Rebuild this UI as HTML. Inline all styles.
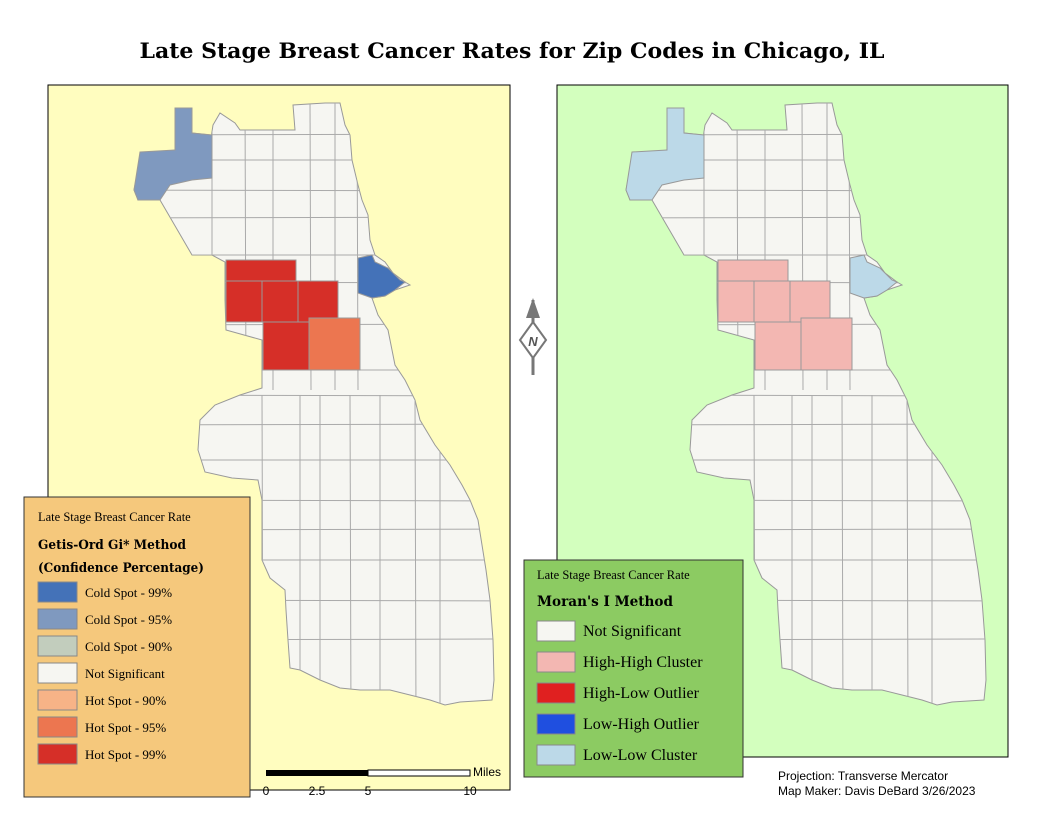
<!DOCTYPE html>
<html><head><meta charset="utf-8"><style>
body{margin:0;background:#fff;}
.serif{font-family:"Liberation Serif",serif;}
.sans{font-family:"Liberation Sans",sans-serif;}
</style></head><body>
<svg width="1056" height="816" viewBox="0 0 1056 816" xmlns="http://www.w3.org/2000/svg">
<defs>
<clipPath id="cityclip"><path id="cityPath" d="M175,108 L192,108 L192,133 L210,135 L210,145 L213,125 L220,113 L235,123 L240,130 L295,130 L293,105 L325,103 L340,103 L345,125 L350,135 L352,160 L358,185 L362,200 L368,215 L370,240 L375,255 L385,262 L393,273 L405,282 L410,285 L395,290 L385,296 L372,298 L378,315 L388,330 L392,350 L395,365 L405,380 L415,400 L420,420 L435,445 L450,465 L462,485 L470,500 L478,520 L482,545 L486,570 L490,600 L493,640 L494,680 L492,700 L460,702 L445,705 L430,700 L410,695 L390,690 L360,690 L340,688 L320,680 L300,670 L290,668 L288,640 L286,610 L285,590 L270,578 L262,560 L262,520 L262,500 L258,480 L232,478 L205,472 L198,450 L200,420 L215,405 L240,395 L262,388 L262,370 L262,340 L226,330 L225,300 L225,262 L212,255 L192,255 L160,200 L155,200 L145,196 L138,200 L134,190 L140,160 L155,154 L175,150 Z"/></clipPath>
</defs>

<text x="512" y="58" text-anchor="middle" font-size="21" font-weight="bold" style="font-family:'DejaVu Serif',serif" textLength="745" lengthAdjust="spacingAndGlyphs">Late Stage Breast Cancer Rates for Zip Codes in Chicago, IL</text>

<rect x="48" y="85" width="462" height="705" fill="#fffdbf" stroke="#000" stroke-width="1"/>
<rect x="557" y="85" width="451" height="672" fill="#d3ffbe" stroke="#000" stroke-width="1"/>

<g id="leftMap"></g>
<g id="rightMap"></g>

<g>
<line x1="533" y1="300" x2="533" y2="375" stroke="#777" stroke-width="3"/>
<polygon points="533,298 526,318 540,318" fill="#777"/>
<polygon points="533,322 520,340 533,358 546,340" fill="#fff" stroke="#777" stroke-width="2"/>
<text x="533" y="346" text-anchor="middle" font-size="13" font-weight="bold" font-style="italic" fill="#555" class="sans">N</text>
</g>

<g class="serif">
<rect x="24" y="497" width="226" height="300" fill="#f5c87c" stroke="#333"/>
<text x="38" y="521" font-size="12.5">Late Stage Breast Cancer Rate</text>
<text x="38" y="549" font-size="13" font-weight="bold" style="font-family:'DejaVu Serif',serif" textLength="148" lengthAdjust="spacingAndGlyphs">Getis-Ord Gi* Method</text>
<text x="38" y="572" font-size="13" font-weight="bold" style="font-family:'DejaVu Serif',serif" textLength="166" lengthAdjust="spacingAndGlyphs">(Confidence Percentage)</text>
<g id="leftLegend"></g>
</g>

<g class="serif">
<rect x="524" y="560" width="219" height="217" fill="#8ccb62" stroke="#333"/>
<text x="537" y="579" font-size="12.5">Late Stage Breast Cancer Rate</text>
<text x="537" y="606" font-size="14" font-weight="bold" style="font-family:'DejaVu Serif',serif" textLength="136" lengthAdjust="spacingAndGlyphs">Moran's I Method</text>
<g id="rightLegend"></g>
</g>

<g class="sans">
<rect x="266" y="770" width="102" height="6" fill="#000"/>
<rect x="368" y="770" width="102" height="6" fill="#fff" stroke="#000" stroke-width="1"/>
<text x="473" y="776" font-size="12">Miles</text>
<text x="266" y="795" font-size="12" text-anchor="middle">0</text>
<text x="317" y="795" font-size="12" text-anchor="middle">2.5</text>
<text x="368" y="795" font-size="12" text-anchor="middle">5</text>
<text x="470" y="795" font-size="12" text-anchor="middle">10</text>
</g>
<text x="778" y="780" font-size="12" class="sans">Projection: Transverse Mercator</text>
<text x="778" y="795" font-size="12" class="sans">Map Maker: Davis DeBard 3/26/2023</text>
</svg>
<script>
const leftCategories=["Cold Spot - 99%","Cold Spot - 95%","Cold Spot - 90%","Not Significant","Hot Spot - 90%","Hot Spot - 95%","Hot Spot - 99%"];
const leftColors=["#4472b8","#7f99bf","#c2cdbd","#f6f6f2","#f7b387","#ec7650","#d62f28"];
const rightCategories=["Not Significant","High-High Cluster","High-Low Outlier","Low-High Outlier","Low-Low Cluster"];
const rightColors=["#f6f6f2","#f3b7b2","#e02020","#1f4fe0","#bcd9e8"];
const zones=[
 ["140,152 175,150 175,108 192,108 192,133 212,135 212,178 192,180 170,185 160,200 138,200 134,190",1,4],
 ["226,260 296,260 296,281 226,281",6,1],
 ["226,281 262,281 262,322 226,322",6,1],
 ["262,281 298,281 298,322 262,322",6,1],
 ["298,281 338,281 338,322 298,322",6,1],
 ["263,322 309,322 309,370 263,370",6,1],
 ["309,318 360,318 360,370 309,370",5,1],
 ["358,258 372,255 375,262 388,268 400,280 405,282 395,290 385,296 372,298 358,293",0,4]
];
const vLines=[212,245,273,310,335,357,320,262,300,350,380,415,440];
const hLines=[135,160,190,218,255,282,325,370,395,425,460,500,530,560,600,640];
const NS="http://www.w3.org/2000/svg";
function mk(tag,attrs,parent){const e=document.createElementNS(NS,tag);for(const k in attrs)e.setAttribute(k,attrs[k]);parent.appendChild(e);return e;}
function drawMap(gid,dx,colorIdx,colors){
 const g=document.getElementById(gid);
 const inner=mk('g',{transform:'translate('+dx+',0)'},g);
 const base=mk('use',{href:'#cityPath',fill:'#f6f6f2',stroke:'#999','stroke-width':1},inner);
 
 
 const grid=mk('g',{'clip-path':'url(#cityclip)',stroke:'#aaa','stroke-width':1},inner);
 hLines.forEach((y,i)=>{const l=mk('line',{x1:100,x2:520,y1:y,y2:y+(i%3-1)},grid);});
 vLines.forEach((x,i)=>{const y0=(i<6)?100:395;const l=mk('line',{x1:x,x2:x+(i%2),y1:y0,y2:(i<6?390:720)},grid);});
 zones.forEach(z=>{const c=colors[z[colorIdx]];const p=mk('polygon',{points:z[0],fill:c,stroke:'#999','stroke-width':1},inner);});
}
drawMap('leftMap',0,1,leftColors);
drawMap('rightMap',492,2,rightColors);
function legend(gid,cats,cols,x,y0,step,w,fs){
 const g=document.getElementById(gid);
 cats.forEach((c,i)=>{const y=y0+i*step;
  const r=mk('rect',{x:x,y:y,width:w,height:20,fill:cols[i],stroke:'#888'},g);
  
  const t=mk('text',{x:x+w+8,y:y+15,'font-size':fs},g);t.textContent=c;
  });
}
legend('leftLegend',leftCategories,leftColors,38,582,27,39,13);
legend('rightLegend',rightCategories,rightColors,537,621,31,38,16);
</script>
</body></html>
